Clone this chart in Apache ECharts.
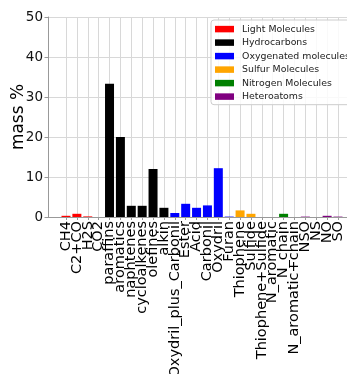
<!DOCTYPE html>
<html><head><meta charset="utf-8">
<script src="https://cdn.jsdelivr.net/npm/echarts@6/dist/echarts.min.js"></script>
<style>html,body{margin:0;padding:0;background:#fff}#c{width:347px;height:374px}</style>
</head><body><div id="c"></div>
<script>
const categories = ['CH4','C2+CO','H2S','CO2','paraffins','aromatics','naphtenes','cycloalkenes','olefines','alkin','Oxydril_plus_Carbonil','Ester','Acid','Carbonil','Oxydril','Furan','Thiophene','Sulfide','Thiophene+Sulfide','N_aromatic','N_chain','N_aromatic+chain','NSO','NS','NO','SO'];
const lightCats = ['CH4','C2+CO','H2S','CO2'];
const lightVals = [0.3, 0.8, 0.15, 0];
const hydroCats = ['paraffins','aromatics','naphtenes','cycloalkenes','olefines','alkin'];
const hydroVals = [33.3, 20.0, 2.8, 2.8, 12.0, 2.3];
const oxyCats = ['Oxydril_plus_Carbonil','Ester','Acid','Carbonil','Oxydril','Furan'];
const oxyVals = [1.0, 3.3, 2.3, 2.9, 12.2, 0.1];
const sulfurCats = ['Thiophene','Sulfide','Thiophene+Sulfide'];
const sulfurVals = [1.65, 0.8, 0];
const nitroCats = ['N_aromatic','N_chain','N_aromatic+chain'];
const nitroVals = [0, 0.8, 0];
const heteroCats = ['NSO','NS','NO','SO'];
const heteroVals = [0.1, 0, 0.3, 0.1];
const yTicks = [0, 10, 20, 30, 40, 50];

const groups = [
  {name:'Light Molecules', cats:lightCats, vals:lightVals, color:'#ff0000'},
  {name:'Hydrocarbons', cats:hydroCats, vals:hydroVals, color:'#000000'},
  {name:'Oxygenated molecules', cats:oxyCats, vals:oxyVals, color:'#0000ff'},
  {name:'Sulfur Molecules', cats:sulfurCats, vals:sulfurVals, color:'#ffa500'},
  {name:'Nitrogen Molecules', cats:nitroCats, vals:nitroVals, color:'#008000'},
  {name:'Heteroatoms', cats:heteroCats, vals:heteroVals, color:'#800080'}
];
const FONT = 'DejaVu Sans';
const chart = echarts.init(document.getElementById('c'), null, {renderer:'canvas'});
chart.setOption({
  animation: false,
  textStyle: {fontFamily: FONT},
  grid: [
    {left: 48, right: -9, top: 17, bottom: 157, containLabel: false, outerBoundsMode: 'none'},
    {left: 66, right: 9, top: 17, bottom: 157, containLabel: false, outerBoundsMode: 'none'}
  ],
  xAxis: [
    {type:'value', gridIndex:0, min:0, max:1, axisLabel:{show:false}, axisTick:{show:false}, splitLine:{show:false},
     axisLine:{show:true, lineStyle:{color:'#999', width:1}}},
    {type:'category', gridIndex:1, data: categories, boundaryGap:false,
     axisLine:{show:false},
     axisTick:{show:true, length:3, lineStyle:{color:'#999'}},
     splitLine:{show:true, lineStyle:{color:'#d8d8d8', width:1}},
     axisLabel:{interval:0, rotate:90, fontSize:14.5, color:'#000', fontFamily:FONT, margin:4, hideOverlap:false}}
  ],
  yAxis: [
    {type:'value', gridIndex:0, min:yTicks[0], max:yTicks[yTicks.length-1], interval:10,
     name:'mass %', nameLocation:'middle', nameGap:21, nameRotate:90, nameMoveOverlap:false,
     nameTextStyle:{fontSize:17, color:'#000', fontFamily:FONT},
     axisLine:{show:true, lineStyle:{color:'#999', width:1}},
     axisTick:{show:true, length:3.5, lineStyle:{color:'#999'}},
     axisLabel:{fontSize:13.5, color:'#111', fontFamily:FONT, margin:5},
     splitLine:{show:true, lineStyle:{color:'#d8d8d8', width:1}}},
    {type:'value', gridIndex:1, min:0, max:50, show:false}
  ],
  legend: {
    orient:'vertical', left:211, top:20,
    padding:[3, 10, 2, 4],
    itemWidth:19, itemHeight:6.5, itemGap:1.3, icon:'rect',
    textStyle:{fontSize:9.4, lineHeight:12.2, color:'#222', fontFamily:FONT, padding:[0,0,0,3]},
    backgroundColor:'rgba(255,255,255,0.85)',
    borderColor:'#ccc', borderWidth:1, borderRadius:3,
    data: groups.map(g => g.name)
  },
  series: groups.map(g => ({
    name: g.name, type:'bar', xAxisIndex:1, yAxisIndex:1,
    barWidth: 9, barGap:'-100%', clip:false,
    itemStyle:{color:g.color},
    data: g.cats.map((c, i) => [c, g.vals[i]])
  }))
});
</script></body></html>
